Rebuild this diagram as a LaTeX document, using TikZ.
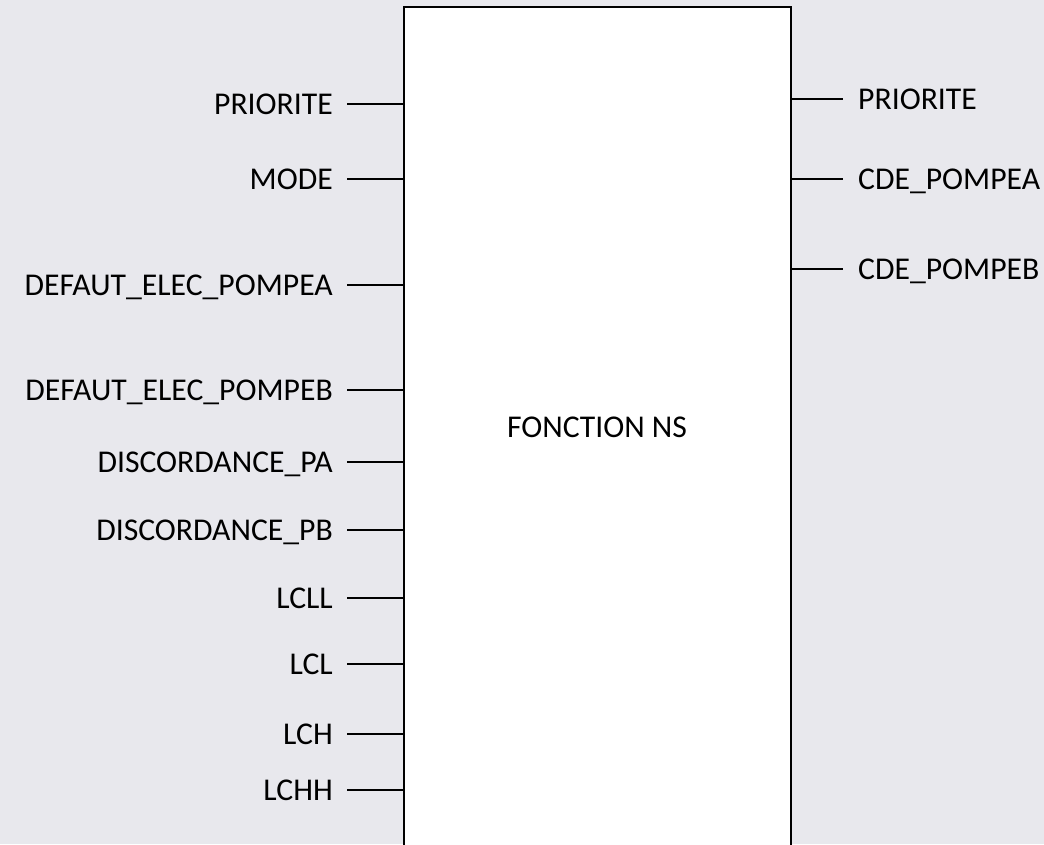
\documentclass[tikz,border=0pt]{standalone}
\usepackage{fontspec}
\setmainfont{Carlito}
\definecolor{bgc}{RGB}{232,232,237}
\begin{document}
\begin{tikzpicture}[x=1pt,y=-1pt,
  lbl/.style={font=\fontsize{31.7}{38}\selectfont, inner sep=0pt},
  wire/.style={line width=1.6pt, black},
  fbox/.style={draw=black, line width=2pt, fill=white, inner sep=0pt}]
\clip (0,0) rectangle (1044,844);
\fill[bgc] (0,0) rectangle (1044,844);
% main block
\coordinate (bl) at (404,7);
\coordinate (br) at (791,900);
\path[fbox] (bl) rectangle (br);
\node[lbl, anchor=base] (fn) at (597,437) {FONCTION NS};
% left inputs
\foreach \n/\y/\t in {a/104/PRIORITE, b/179/MODE, c/285/DEFAUT\_ELEC\_POMPEA, d/390/DEFAUT\_ELEC\_POMPEB, e/462/DISCORDANCE\_PA, f/530/DISCORDANCE\_PB, g/598/LCLL, h/664/LCL, i/734/LCH, j/790/LCHH}{
  \node[lbl, anchor=base east] (L\n) at (333,\y+10) {\t};
  \coordinate (Ls\n) at (347,\y);
  \coordinate (Le\n) at (404,\y);
  \draw[wire] (Ls\n) -- (Le\n);
}
% right outputs
\foreach \n/\y/\t in {a/99/PRIORITE, b/179/CDE\_POMPEA, c/269/CDE\_POMPEB}{
  \node[lbl, anchor=base west] (R\n) at (858,\y+10) {\t};
  \coordinate (Rs\n) at (791,\y);
  \coordinate (Re\n) at (843,\y);
  \draw[wire] (Rs\n) -- (Re\n);
}
\end{tikzpicture}
\end{document}
